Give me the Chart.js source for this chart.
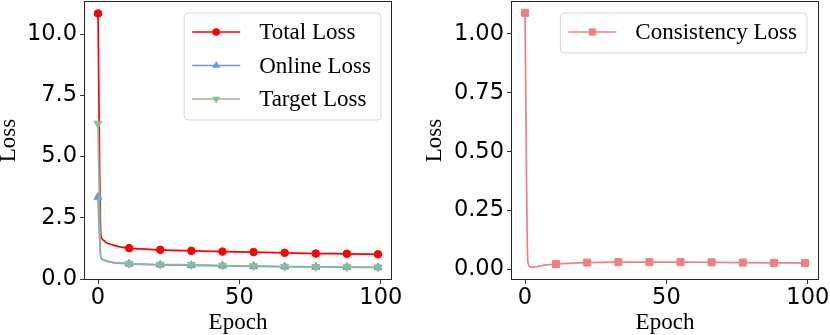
<!DOCTYPE html>
<html><head><meta charset="utf-8">
<script src="https://cdn.jsdelivr.net/npm/chart.js@4/dist/chart.umd.min.js"></script>
<style>
html,body{margin:0;padding:0;background:#fff;}
#wrap{position:relative;width:830px;height:335px;overflow:hidden;}
canvas{position:absolute;top:0;}
</style></head><body>
<div id="wrap">
<canvas id="c1" width="415" height="335" style="left:0"></canvas>
<canvas id="c2" width="415" height="335" style="left:415px"></canvas>
</div>
<script>
// ---- data ----
const epochs = [0, 1, 2, 3, 5, 7, 11, 22, 33, 44, 55, 66, 77, 88, 99];
const markerEpochs = [0, 11, 22, 33, 44, 55, 66, 77, 88, 99];
const totalLoss = [10.84, 1.80, 1.58, 1.48, 1.40, 1.33, 1.26, 1.19, 1.15, 1.12, 1.10, 1.07, 1.04, 1.03, 1.01];
const onlineLoss = [3.35, 0.88, 0.78, 0.73, 0.68, 0.65, 0.62, 0.58, 0.56, 0.54, 0.52, 0.50, 0.49, 0.48, 0.47];
const targetLoss = [6.35, 0.89, 0.79, 0.74, 0.69, 0.66, 0.63, 0.59, 0.58, 0.55, 0.53, 0.51, 0.50, 0.49, 0.48];
const consistencyLoss = [1.09, 0.033, 0.010, 0.010, 0.014, 0.018, 0.023, 0.029, 0.031, 0.031, 0.031, 0.030, 0.029, 0.028, 0.027];
const xTicks = [0, 50, 100];
const yTicksLeft = [0, 2.5, 5, 7.5, 10];
const yTicksRight = [0, 0.25, 0.5, 0.75, 1.0];
const xLabel = 'Epoch';
const yLabel = 'Loss';

const TICK_FONT = {family: 'DejaVu Sans', size: 22.5};
const SERIF = 'Liberation Serif';

function pts(vals) { return epochs.map((e, i) => ({x: e, y: vals[i]})); }
function radii(r) { return epochs.map(e => markerEpochs.includes(e) ? r : 0); }

function mkDataset(label, vals, color, style, r, rot, order) {
  return {
    label, data: pts(vals), borderColor: color, backgroundColor: color,
    borderWidth: 1.7, pointStyle: style, pointRadius: radii(r), pointHoverRadius: radii(r),
    pointRotation: rot, pointBorderWidth: 1, pointBorderColor: color, pointBackgroundColor: color,
    cubicInterpolationMode: 'monotone', order, clip: 6, _style: style, _r: r, _rot: rot
  };
}

function drawMarker(ctx, style, x, y, r, rot) {
  ctx.beginPath();
  if (style === 'circle') {
    ctx.arc(x, y, r, 0, Math.PI * 2);
  } else if (style === 'rect') {
    const s = r * Math.SQRT2 / 2;
    ctx.rect(x - s, y - s, 2 * s, 2 * s);
  } else if (style === 'triangle') {
    const a = (rot || 0) * Math.PI / 180;
    for (let k = 0; k < 3; k++) {
      const t = a - Math.PI / 2 + k * 2 * Math.PI / 3;
      const px = x + r * Math.cos(t), py = y + r * Math.sin(t);
      if (k === 0) ctx.moveTo(px, py); else ctx.lineTo(px, py);
    }
    ctx.closePath();
  }
  ctx.fill();
}

const framePlugin = {
  id: 'frame',
  afterDatasetsDraw(chart) {
    const {ctx, chartArea: a} = chart;
    ctx.save();
    ctx.strokeStyle = '#262626';
    ctx.lineWidth = 1;
    ctx.strokeRect(Math.round(a.left) + 0.5, Math.round(a.top) + 0.5, Math.round(a.right - a.left) - 1, Math.round(a.bottom - a.top) - 1);
    ctx.restore();
  }
};

const legendPlugin = {
  id: 'boxLegend',
  afterDraw(chart) {
    const opts = chart.options.plugins.boxLegend;
    if (!opts) return;
    const {ctx, chartArea: a} = chart;
    const dsets = opts.items.map(i => chart.data.datasets[i]);
    ctx.save();
    ctx.font = '23px "' + SERIF + '"';
    const maxW = Math.max(...dsets.map(d => ctx.measureText(d.label).width));
    const boxW = 8 + 48 + 19 + maxW + 10;
    const n = dsets.length;
    const boxH = 19 + (n - 1) * 33.5 + 21;
    const right = a.right - opts.inset;
    const left = right - boxW;
    const top = a.top + 12;
    ctx.beginPath();
    const rr = 4;
    ctx.moveTo(left + rr, top);
    ctx.arcTo(right, top, right, top + boxH, rr);
    ctx.arcTo(right, top + boxH, left, top + boxH, rr);
    ctx.arcTo(left, top + boxH, left, top, rr);
    ctx.arcTo(left, top, right, top, rr);
    ctx.closePath();
    ctx.fillStyle = 'rgba(255,255,255,0.85)';
    ctx.fill();
    ctx.strokeStyle = '#d6d6d6';
    ctx.lineWidth = 1;
    ctx.stroke();
    dsets.forEach((d, k) => {
      const y = top + 19 + k * 33.5;
      ctx.strokeStyle = d.borderColor;
      ctx.lineWidth = 1.7;
      ctx.beginPath();
      ctx.moveTo(left + 8, y);
      ctx.lineTo(left + 56, y);
      ctx.stroke();
      ctx.fillStyle = d.borderColor;
      drawMarker(ctx, d._style, left + 32, y, d._r, d._rot);
      ctx.fillStyle = '#000';
      ctx.textBaseline = 'middle';
      ctx.textAlign = 'left';
      ctx.fillText(d.label, left + 75, y + 1);
    });
    ctx.restore();
  }
};

function zeroPad(s) { s.paddingTop = 0; s.paddingBottom = 0; s.paddingLeft = 0; s.paddingRight = 0; }

function scales(yMin, yMax, yTicks, yDigits, yWidth, yTitlePad, yTitleLH) {
  return {
    x: {
      type: 'linear', min: -4.95, max: 103.95,
      afterBuildTicks: s => { s.ticks = xTicks.map(v => ({value: v})); },
      afterFit: s => { s.height = 55; zeroPad(s); },
      border: {display: false},
      grid: {display: true, drawOnChartArea: false, drawTicks: true, tickLength: 4, color: '#000', lineWidth: 0.8},
      ticks: {font: TICK_FONT, color: '#000', padding: 1, maxRotation: 0, autoSkip: false, callback: v => String(v)},
      title: {display: true, text: xLabel, color: '#000', font: {family: SERIF, size: 23, lineHeight: 1.05}, padding: {top: 0, bottom: 0}}
    },
    y: {
      type: 'linear', min: yMin, max: yMax,
      afterBuildTicks: s => { s.ticks = yTicks.map(v => ({value: v})); },
      afterFit: s => { s.width = yWidth; zeroPad(s); },
      border: {display: false},
      grid: {display: true, drawOnChartArea: false, drawTicks: true, tickLength: 4, color: '#000', lineWidth: 0.8},
      ticks: {font: TICK_FONT, color: '#000', padding: 3, autoSkip: false, callback: v => Number(v).toFixed(yDigits)},
      title: {display: true, text: yLabel, color: '#000', font: {family: SERIF, size: 23, lineHeight: yTitleLH}, padding: {top: yTitlePad, bottom: 0}}
    }
  };
}

const common = {
  responsive: false, animation: false, devicePixelRatio: 1,
  elements: {line: {tension: 0}}
};

new Chart(document.getElementById('c1'), {
  type: 'line',
  data: {datasets: [
    mkDataset('Total Loss', totalLoss, '#ff0000', 'circle', 3.8, 0, 2),
    mkDataset('Online Loss', onlineLoss, '#6495ed', 'triangle', 4.6, 0, 1),
    mkDataset('Target Loss', targetLoss, '#8fbc8f', 'triangle', 4.6, 180, 0)
  ]},
  options: Object.assign({}, common, {
    layout: {autoPadding: false, padding: {top: 1, right: 23, left: 0, bottom: 0}},
    scales: scales(-0.04, 11.35, yTicksLeft, 1, 84, 0, 0.8),
    plugins: {legend: {display: false}, tooltip: {enabled: false}, boxLegend: {items: [0, 1, 2], inset: 11}}
  }),
  plugins: [framePlugin, legendPlugin]
});

new Chart(document.getElementById('c2'), {
  type: 'line',
  data: {datasets: [
    mkDataset('Consistency Loss', consistencyLoss, '#f08080', 'rect', 5.0, 0, 0)
  ]},
  options: Object.assign({}, common, {
    layout: {autoPadding: false, padding: {top: 1, right: 11, left: 0, bottom: 0}},
    scales: scales(-0.045, 1.14, yTicksRight, 2, 96, 6, 1.2),
    plugins: {legend: {display: false}, tooltip: {enabled: false}, boxLegend: {items: [0], inset: 12}}
  }),
  plugins: [framePlugin, legendPlugin]
});
</script>
</body></html>
